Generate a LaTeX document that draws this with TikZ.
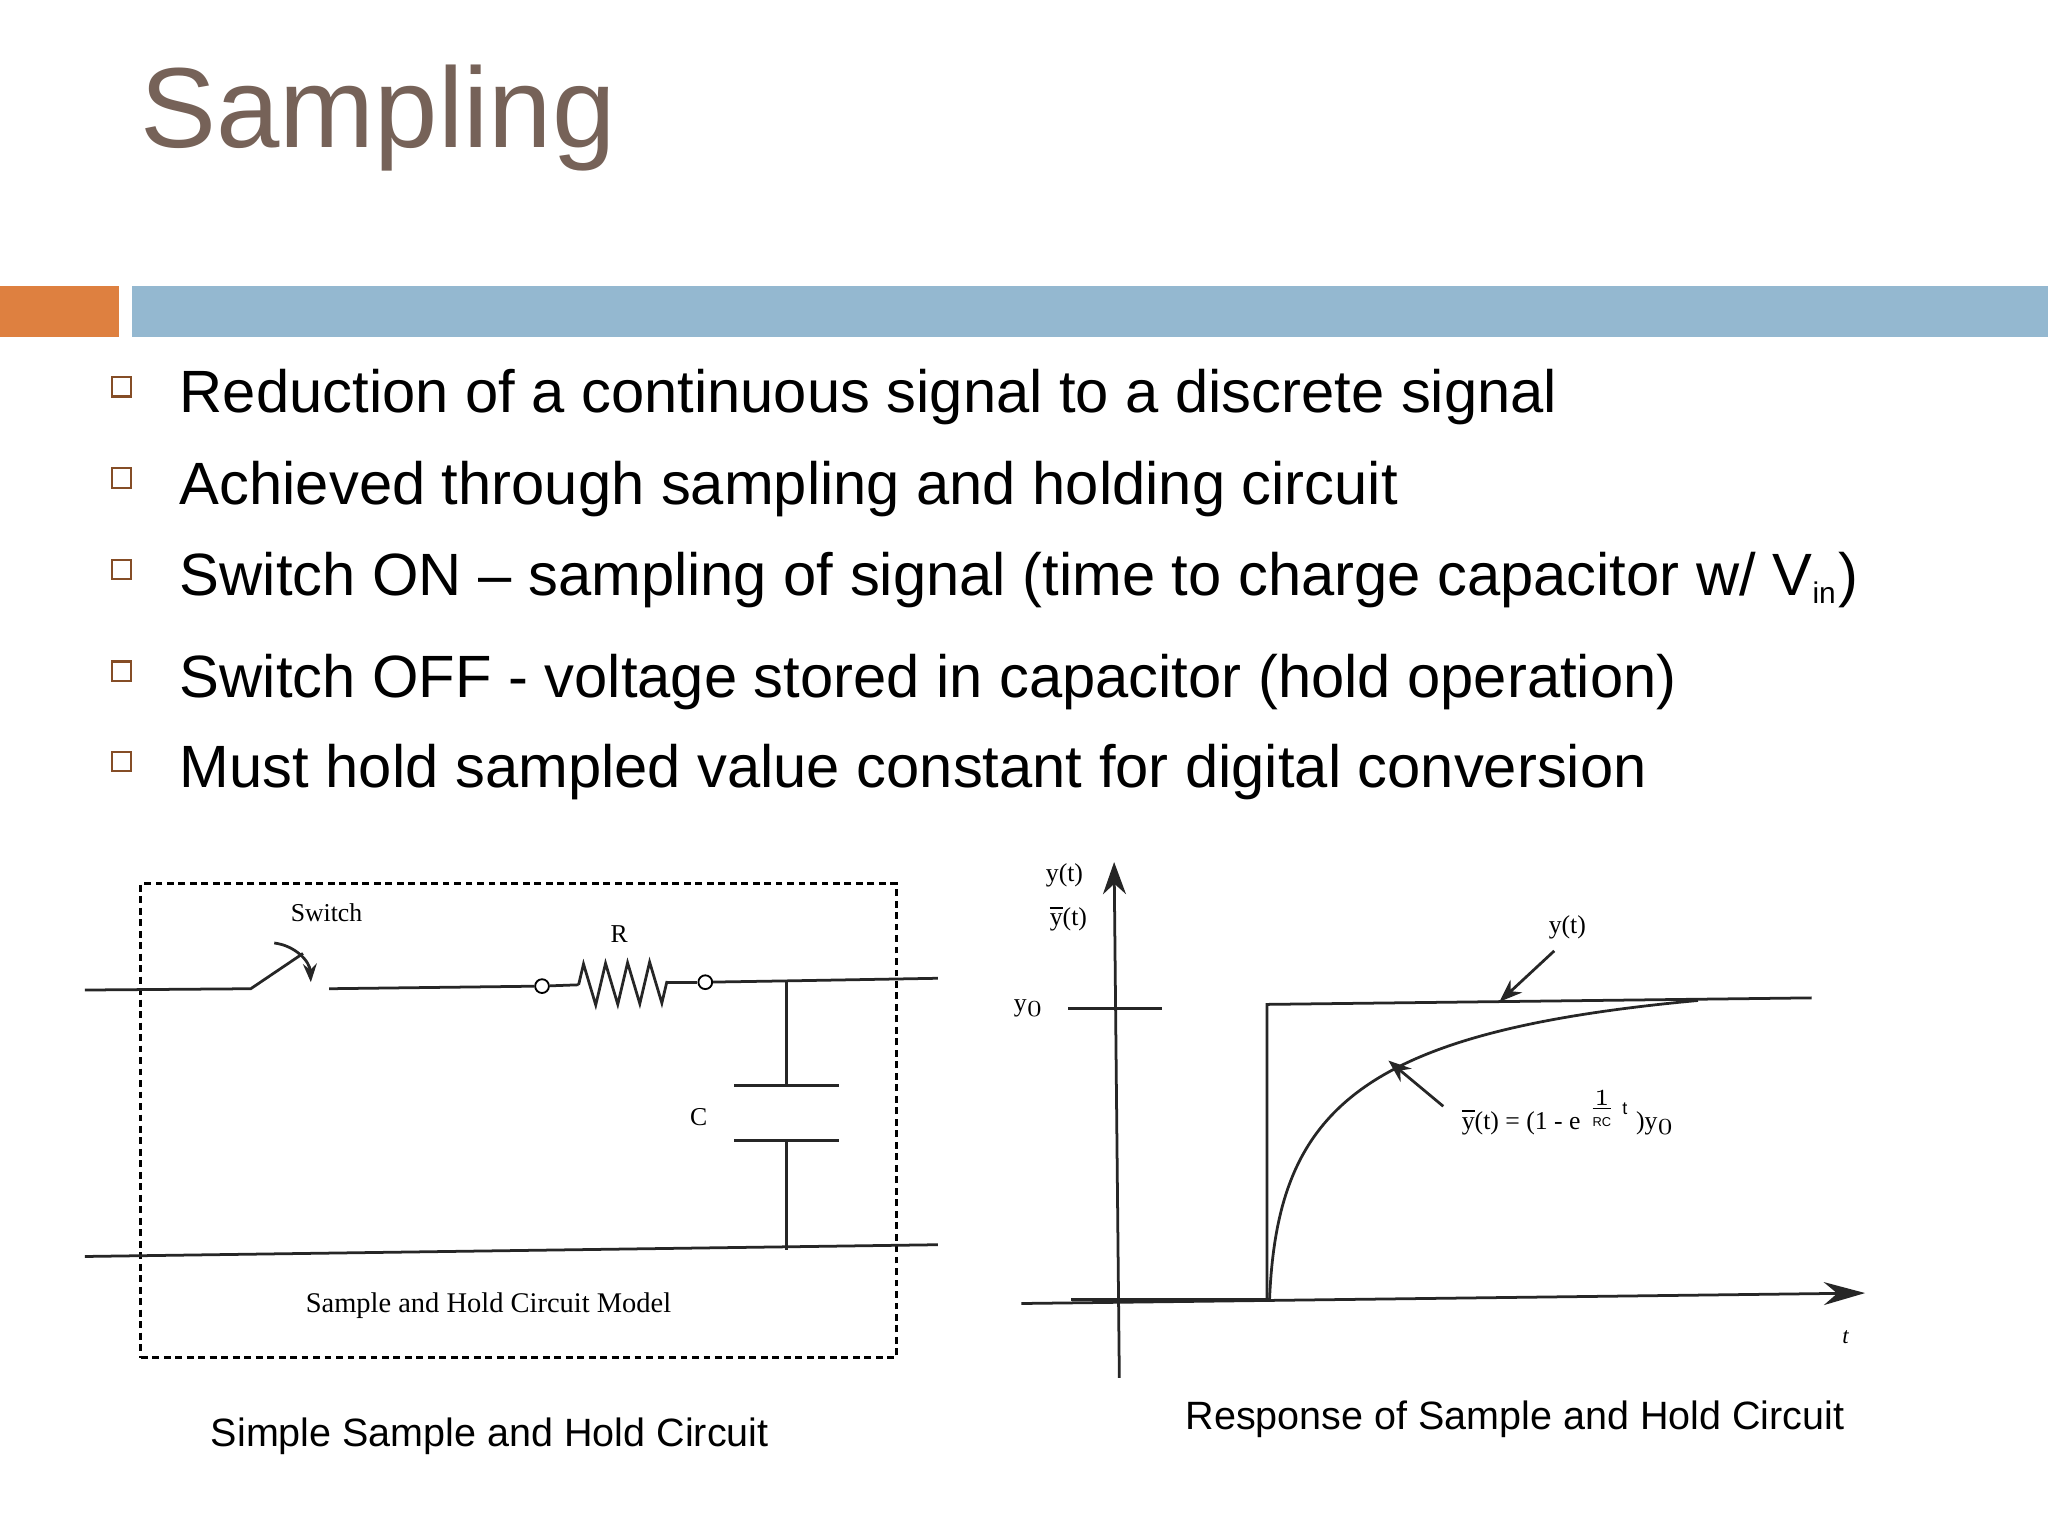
\documentclass[tikz,border=0pt]{standalone}
\usepackage{fontspec}
\setmainfont{Liberation Sans}
\newfontfamily\serifc{Liberation Serif}
\usetikzlibrary{decorations.pathmorphing,arrows.meta}
\definecolor{titlec}{RGB}{118,98,88}
\definecolor{barblue}{RGB}{148,184,208}
\definecolor{barorange}{RGB}{222,128,64}
\tikzset{
 bul/.style={anchor=base west,font=\fontsize{13pt}{14pt}\selectfont,inner sep=0},
 sq/.style={draw=barorange!60!black,line width=0.5pt,minimum size=0.15cm,inner sep=0},
 lbl/.style={font=\serifc\fontsize{5.6pt}{6pt}\selectfont,inner sep=1pt},
 captext/.style={font=\fontsize{8.6pt}{10pt}\selectfont,inner sep=0},
 wire/.style={line width=0.6pt,black!85}
}
\begin{document}
\begin{tikzpicture}[x=0.01cm,y=-0.01cm]
\useasboundingbox (0,0) rectangle (1568,1176);
\fill[white] (0,0) rectangle (1568,1176);
\node[anchor=base west,inner sep=0,text=titlec,font=\fontsize{24.8pt}{28pt}\selectfont] (title) at (107,113) {Sampling};
\fill[barorange] (0,219) rectangle (91,258);
\fill[barblue] (101,219) rectangle (1568,258);
\foreach \y/\t [count=\i] in {316/{Reduction of a continuous signal to a discrete signal},386/{Achieved through sampling and holding circuit},456/{Switch ON -- sampling of signal (time to charge capacitor w/ V$_{\scriptscriptstyle\mathrm{in}}$)},534/{Switch OFF - voltage stored in capacitor (hold operation)},603/{Must hold sampled value constant for digital conversion}}{
 \node[sq] (s\i) at (93,\y-20) {};
 \node[bul] (b\i) at (137,\y) {\t};
}
% circuit
\node[draw,dash pattern=on 1.5pt off 1pt,line width=0.6pt,minimum width=5.78cm,minimum height=3.63cm,inner sep=0] (box) at (397,858) {};
\coordinate (a1) at (65,758); \coordinate (a2) at (192,757); \coordinate (a3) at (232,730);
\coordinate (a4) at (252,757);
\draw[wire] (a1)--(a2)--(a3);
\draw[wire,-{Stealth[length=4pt]}] (210,722) to[bend left=40] (238,752);
\node[lbl] (sw) at (250,699) {Switch};
\node[circle,draw,inner sep=0,minimum size=3pt] (r1) at (415,755) {};
\node[circle,draw,inner sep=0,minimum size=3pt] (r2) at (540,752) {};
\draw[wire] (a4)--(r1);
\coordinate (z1) at (443,754); \coordinate (z2) at (511,752);
\draw[wire] (r1)--(z1);
\draw[wire,decorate,decoration={zigzag,segment length=4.8pt,amplitude=4.5pt}] (z1)--(z2);
\draw[wire] (z2)--(r2);
\node[lbl] (R) at (474,715) {R};
\coordinate (c0) at (602,751);
\draw[wire] (r2)--(c0)--(718,749);
\coordinate (c1) at (602,831); \coordinate (c2) at (602,873); \coordinate (c3) at (602,957);
\draw[wire] (c0)--(c1); \draw[wire] (562,831)--(642,831); \draw[wire] (562,873)--(642,873);
\draw[wire] (c2)--(c3);
\node[lbl] (C) at (535,855) {C};
\draw[wire] (65,962)--(718,953);
\node[lbl,font=\serifc\fontsize{6.2pt}{7pt}\selectfont] (model) at (374,1000) {Sample and Hold Circuit Model};
\node[captext] (cap1) at (375,1100) {Simple Sample and Hold Circuit};
% graph
\coordinate (yb) at (857,1055); \coordinate (yt) at (853,660);
\draw[wire,-{Stealth[length=7pt,width=5pt]}] (yb)--(yt);
\coordinate (xl) at (782,998); \coordinate (xr) at (1428,990);
\draw[wire,-{Stealth[length=9pt,width=5pt]}] (xl)--(xr);
\draw[wire] (818,772)--(890,772);
\node[lbl] (y0) at (788,772) {y$_{\scriptscriptstyle 0}$};
\node[lbl] (yl1) at (815,670) {y(t)};
\node[lbl] (yl2) at (818,703) {$\overline{\mbox{y}}$(t)};
\coordinate (s0) at (820,995); \coordinate (s1) at (970,995); \coordinate (s2) at (970,769); \coordinate (s3) at (1387,764);
\draw[wire] (s0)--(s1)--(s2)--(s3);
\draw[wire] (972,995) .. controls (978,850) and (1040,790) .. (1300,766);
\node[lbl] (yt2) at (1200,710) {y(t)};
\draw[wire,-{Stealth[length=5pt]}] (1190,728)--(1148,767);
\node[lbl,anchor=west] (f) at (1115,852) {$\overline{\mbox{y}}$(t) = (1 - e\ $^{\frac{1}{\mathrm{RC}}\,\mathrm{t}}$\ )y$_{\scriptscriptstyle 0}$};
\draw[wire,-{Stealth[length=5pt]}] (1105,847)--(1063,812);
\node[lbl,font=\serifc\itshape\fontsize{5pt}{6pt}\selectfont] (tl) at (1413,1024) {t};
\node[captext] (cap2) at (1160,1087) {Response of Sample and Hold Circuit};
\end{tikzpicture}
\end{document}
